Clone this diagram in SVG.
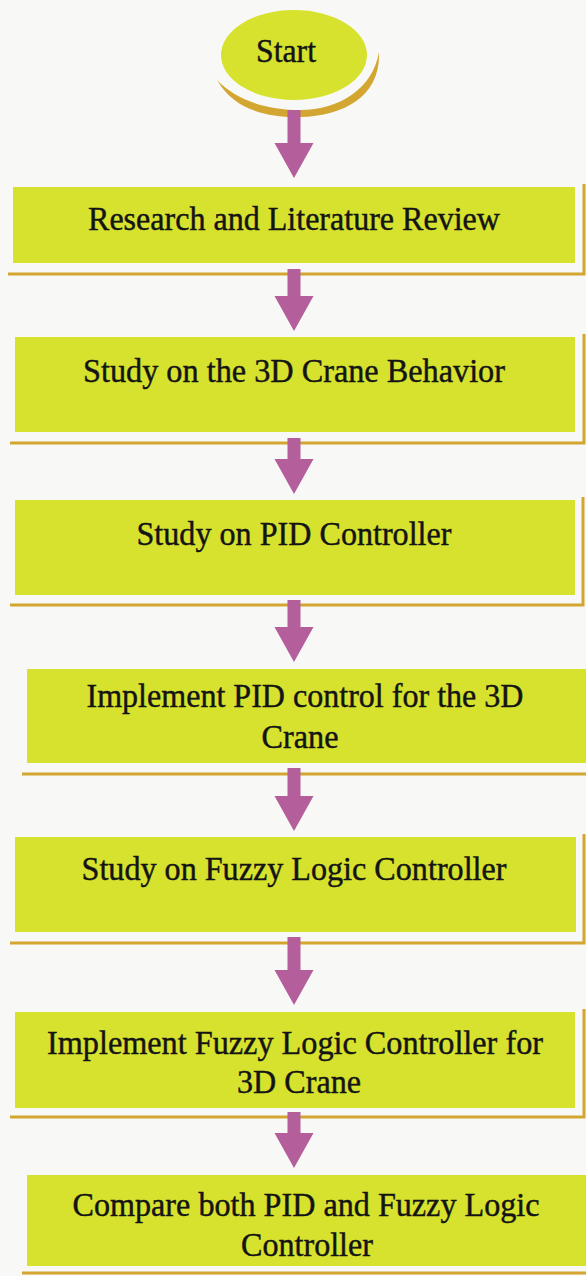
<svg xmlns="http://www.w3.org/2000/svg" width="586" height="1276" viewBox="0 0 586 1276">
  <style>
    .box { fill: #d6e22e; }
    .rim { fill: none; stroke: #d2a631; stroke-width: 3; }
    .lbl { font-family: "Liberation Serif", "Times New Roman", serif; font-size: 34px; fill: #141414; stroke: #141414; stroke-width: 0.45; text-anchor: middle; }
    .arrow { fill: #b45e9c; }
  </style>
  <rect width="586" height="1276" fill="#f8f8f6"/>

  <!-- Start terminal -->
  <g id="start">
    <path d="M 217,80 C 235,112 272,118 300,117 C 345,116 381,95 379,52 C 373,88 340,110 300,110 C 266,110 236,100 217,80 Z" fill="#d2a631"/>
    <ellipse cx="294" cy="55" rx="73" ry="45" class="box"/>
    <text x="286" y="62" class="lbl" textLength="60" lengthAdjust="spacingAndGlyphs">Start</text>
  </g>

  <!-- Process steps -->
  <g id="step-research">
    <rect x="13" y="187" width="562" height="76" class="box"/>
    <polyline points="8,274 584,274 584,184" class="rim"/>
    <text x="294" y="230" class="lbl" textLength="412" lengthAdjust="spacingAndGlyphs">Research and Literature Review</text>
  </g>

  <g id="step-crane-behavior">
    <rect x="15" y="337" width="560" height="95" class="box"/>
    <polyline points="10,443 584,443 584,334" class="rim"/>
    <text x="294" y="382" class="lbl" textLength="422" lengthAdjust="spacingAndGlyphs">Study on the 3D Crane Behavior</text>
  </g>

  <g id="step-pid-study">
    <rect x="15" y="500" width="560" height="95" class="box"/>
    <polyline points="10,605 583,605 583,497" class="rim"/>
    <text x="294" y="545" class="lbl" textLength="315" lengthAdjust="spacingAndGlyphs">Study on PID Controller</text>
  </g>

  <g id="step-pid-implement">
    <rect x="27" y="669" width="570" height="94" class="box"/>
    <polyline points="22,774 590,774" class="rim"/>
    <text x="305" y="707" class="lbl" textLength="437" lengthAdjust="spacingAndGlyphs">Implement PID control for the 3D</text>
    <text x="300" y="748" class="lbl" textLength="77" lengthAdjust="spacingAndGlyphs">Crane</text>
  </g>

  <g id="step-fuzzy-study">
    <rect x="15" y="837" width="561" height="95" class="box"/>
    <polyline points="10,943 584,943 584,834" class="rim"/>
    <text x="294" y="880" class="lbl" textLength="425" lengthAdjust="spacingAndGlyphs">Study on Fuzzy Logic Controller</text>
  </g>

  <g id="step-fuzzy-implement">
    <rect x="15" y="1012" width="560" height="96" class="box"/>
    <polyline points="10,1117 584,1117 584,1009" class="rim"/>
    <text x="295" y="1054" class="lbl" textLength="496" lengthAdjust="spacingAndGlyphs">Implement Fuzzy Logic Controller for</text>
    <text x="299" y="1093" class="lbl" textLength="124" lengthAdjust="spacingAndGlyphs">3D Crane</text>
  </g>

  <g id="step-compare">
    <rect x="27" y="1175" width="570" height="91" class="box"/>
    <polyline points="22,1273 590,1273" class="rim"/>
    <text x="306" y="1216" class="lbl" textLength="467" lengthAdjust="spacingAndGlyphs">Compare both PID and Fuzzy Logic</text>
    <text x="307" y="1256" class="lbl" textLength="132" lengthAdjust="spacingAndGlyphs">Controller</text>
  </g>

  <!-- Flow arrows -->
  <g id="connectors">
    <polygon class="arrow" points="287.5,110 300.5,110 300.5,143 313.5,143 294,178 274.5,143 287.5,143"/>
    <polygon class="arrow" points="287.5,269 300.5,269 300.5,296 313.5,296 294,331 274.5,296 287.5,296"/>
    <polygon class="arrow" points="287.5,438 300.5,438 300.5,459 313.5,459 294,494 274.5,459 287.5,459"/>
    <polygon class="arrow" points="287.5,600 300.5,600 300.5,627 313.5,627 294,662 274.5,627 287.5,627"/>
    <polygon class="arrow" points="287.5,768 300.5,768 300.5,796 313.5,796 294,831 274.5,796 287.5,796"/>
    <polygon class="arrow" points="287.5,937 300.5,937 300.5,970 313.5,970 294,1005 274.5,970 287.5,970"/>
    <polygon class="arrow" points="287.5,1112 300.5,1112 300.5,1133 313.5,1133 294,1168 274.5,1133 287.5,1133"/>
  </g>
</svg>
